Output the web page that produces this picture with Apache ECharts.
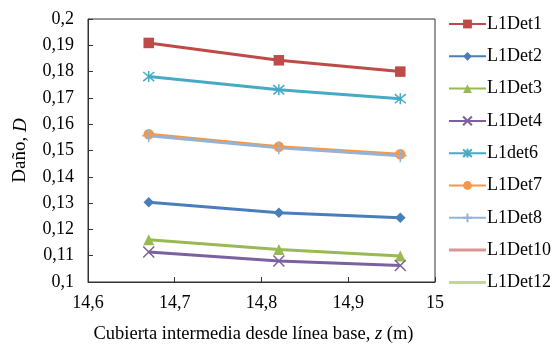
<!DOCTYPE html>
<html>
<head>
<meta charset="utf-8">
<script src="https://cdn.jsdelivr.net/npm/echarts@6/dist/echarts.min.js"></script>
<style>
  html, body { margin: 0; padding: 0; background: #fff; }
  #chart { width: 559px; height: 349px; }
</style>
</head>
<body>
<div id="chart"></div>
<script>
// profundidad de la cubierta (m)
var zValues = [14.67, 14.82, 14.96];

var seriesNames = ['L1Det1', 'L1Det2', 'L1Det3', 'L1Det4', 'L1det6', 'L1Det7', 'L1Det8', 'L1Det10', 'L1Det12'];

// daño
var dDet1 = [0.1909, 0.1843, 0.1800];
var dDet2 = [0.1303, 0.1263, 0.1244];
var dDet3 = [0.1161, 0.1124, 0.1099];
var dDet4 = [0.1114, 0.1080, 0.1063];
var dDet6 = [0.1781, 0.1731, 0.1697];
var dDet7 = [0.1562, 0.1514, 0.1486];
var dDet8 = [0.1556, 0.1510, 0.1480];
var dDet10 = [];
var dDet12 = [];

var colors = ['#BE4B48', '#4A7EBB', '#98B954', '#7D60A0', '#46AAC5', '#F79646', '#95B3D7', '#D99694', '#C3D69B'];

var crossPath = 'path://M0,0L10,10M10,0L0,10';
var starPath = 'path://M0,0L10,10M10,0L0,10M5,-1L5,11';
var plusPath = 'path://M5,0L5,10M0,5L10,5';
// icono de leyenda solo con línea
var lineIcon = 'path://M0,0L37,0L37,3L0,3Z';

var symbols = ['rect', 'diamond', 'triangle', crossPath, starPath, 'circle', plusPath, 'none', 'none'];
var symbolSizes = [10.5, 10.5, 11, 11, 11, 10.5, 13, 0, 0];
var strokeSymbols = [false, false, false, true, true, false, true, false, false];
var allData = [dDet1, dDet2, dDet3, dDet4, dDet6, dDet7, dDet8, dDet10, dDet12];

function fmt(v) {
    return String(parseFloat(v.toFixed(2))).replace('.', ',');
}

var series = [];
var legendData = [];
for (var i = 0; i < seriesNames.length; i++) {
    var pts = [];
    for (var j = 0; j < allData[i].length; j++) {
        pts.push([zValues[j], allData[i][j]]);
    }
    series.push({
        name: seriesNames[i],
        type: 'line',
        data: pts,
        symbol: symbols[i],
        symbolSize: symbolSizes[i],
        showSymbol: symbols[i] !== 'none',
        lineStyle: { color: colors[i], width: 3 },
        itemStyle: strokeSymbols[i]
            ? { color: 'transparent', borderColor: colors[i], borderWidth: 1.5 }
            : { color: colors[i], borderColor: colors[i], borderWidth: 0 },
        emphasis: { disabled: true },
        animation: false
    });
    if (symbols[i] === 'none') {
        legendData.push({ name: seriesNames[i], icon: lineIcon, itemStyle: { color: colors[i] } });
    } else {
        legendData.push({ name: seriesNames[i] });
    }
}

var chart = echarts.init(document.getElementById('chart'));
chart.setOption({
    color: colors,
    animation: false,
    textStyle: { fontFamily: 'Liberation Serif' },
    grid: {
        left: 88, right: 124, top: 19, bottom: 63,
        show: true, borderColor: '#333', borderWidth: 1
    },
    legend: {
        orient: 'vertical',
        left: 448,
        top: 15,
        padding: 0,
        itemWidth: 37,
        itemHeight: 11,
        itemGap: 14.3,
        data: legendData,
        textStyle: { fontFamily: 'Liberation Serif', fontSize: 18, color: '#000', padding: [0, 0, 0, -4] }
    },
    xAxis: {
        type: 'value',
        min: 14.6, max: 15, interval: 0.1,
        name: 'Cubierta intermedia desde línea base, {i|z} (m)',
        nameLocation: 'middle',
        nameGap: 43,
        nameTextStyle: {
            fontFamily: 'Liberation Serif', fontSize: 18.5, color: '#000',
            padding: [0, 16, 0, 0],
            rich: { i: { fontStyle: 'italic', fontFamily: 'Liberation Serif', fontSize: 18.5 } }
        },
        axisLine: { lineStyle: { color: '#333', width: 1 } },
        axisTick: { inside: true, length: 5, lineStyle: { color: '#333' } },
        axisLabel: { formatter: fmt, fontSize: 18, color: '#000', margin: 12 },
        splitLine: { show: false }
    },
    yAxis: {
        type: 'value',
        min: 0.1, max: 0.2, interval: 0.01,
        name: 'Daño, {i|D}',
        nameLocation: 'middle',
        nameGap: 58,
        nameTextStyle: {
            fontFamily: 'Liberation Serif', fontSize: 19, color: '#000',
            rich: { i: { fontStyle: 'italic', fontFamily: 'Liberation Serif', fontSize: 19 } }
        },
        axisLine: { show: true, lineStyle: { color: '#333', width: 1 } },
        axisTick: { show: true, inside: true, length: 5, lineStyle: { color: '#333' } },
        axisLabel: { formatter: fmt, fontSize: 18, color: '#000', margin: 14 },
        splitLine: { show: false }
    },
    series: series
});
</script>
</body>
</html>
